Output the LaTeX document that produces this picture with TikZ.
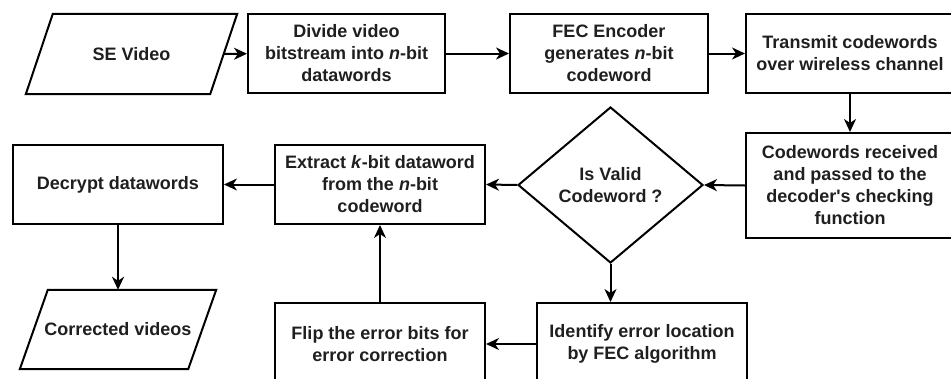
\documentclass[tikz,border=0pt]{standalone}
\usepackage{fontspec}
\setmainfont{Liberation Sans}
\usetikzlibrary{arrows.meta,shapes.geometric}
\tikzset{
  txt/.style={align=center, font=\fontsize{18}{22}\selectfont\bfseries, text=black!88},
  box/.style={txt, draw, line width=2pt, inner sep=2pt},
  io/.style={txt, inner sep=0pt},
  dec/.style={txt, draw, line width=2pt, shape=diamond, inner sep=0pt},
  arr/.style={line width=2pt, -{Stealth[length=13pt,width=12pt,inset=4pt]}},
  para/.style={draw, line width=2pt, line join=miter}
}
\begin{document}
\begin{tikzpicture}[x=1pt,y=-1pt]
\useasboundingbox (0,0) rectangle (951,378);
\clip (0,0) rectangle (951,378);
% top row
\node[io, minimum width=184, minimum height=80] (se) at (131.5,54) {SE Video};
\draw[para] ([xshift=13.5pt]se.north west) -- ([xshift=13.5pt]se.north east)
  -- ([xshift=-13.5pt]se.south east) -- ([xshift=-13.5pt]se.south west) -- cycle;
\node[box, minimum width=197, minimum height=79] (div) at (346.5,53.5) {Divide video\\bitstream into \textit{n}-bit\\datawords};
\node[box, minimum width=198, minimum height=79] (fec) at (609,53.5) {FEC Encoder\\generates \textit{n}-bit\\codeword};
\node[box, minimum width=208, minimum height=79] (tx) at (850,53.5) {Transmit codewords\\over wireless channel};
% middle row
\node[box, minimum width=208, minimum height=105] (rx) at (850,185.5) {Codewords received\\and passed to the\\decoder\textquotesingle s checking\\function};
\node[dec, minimum width=185, minimum height=156] (dia) at (610.5,185) {Is Valid\\Codeword ?};
\node[box, minimum width=210, minimum height=79] (ext) at (380,184.5) {Extract \textit{k}-bit dataword\\from the \textit{n}-bit\\codeword};
\node[box, minimum width=210, minimum height=79] (dcr) at (118,184.5) {Decrypt datawords};
% bottom row
\node[io, minimum width=168, minimum height=79] (cv) at (118,329.5) {Corrected videos};
\draw[para] ([xshift=14pt]cv.north west) -- ([xshift=14pt]cv.north east)
  -- ([xshift=-14pt]cv.south east) -- ([xshift=-14pt]cv.south west) -- cycle;
\node[box, minimum width=210, minimum height=82] (flip) at (380,344) {Flip the error bits for\\error correction};
\node[box, minimum width=210, minimum height=82] (idf) at (642,344) {Identify error location\\by FEC algorithm};
% connectors
\draw[arr] (se) -- (div);
\draw[arr] (div) -- (fec);
\draw[arr] (fec) -- (tx);
\draw[arr] (tx) -- (rx);
\draw[arr] (rx.west) -- (dia.east);
\draw[arr] (dia.west) -- (ext.east);
\draw[arr] (ext) -- (dcr);
\draw[arr] (dcr) -- (cv);
\draw[arr] (dia.south) -- (dia.south |- idf.north);
\draw[arr] (idf) -- (flip);
\draw[arr] (flip) -- (ext);
\end{tikzpicture}
\end{document}
